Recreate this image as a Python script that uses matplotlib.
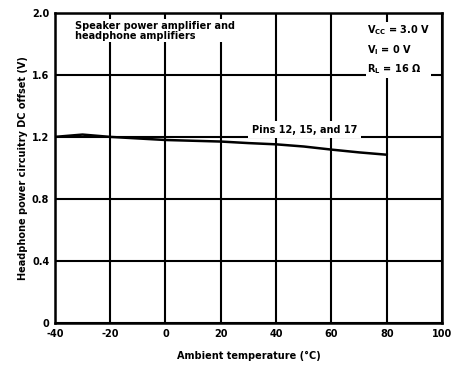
import matplotlib
matplotlib.use('Agg')
import matplotlib.pyplot as plt

# DC offset vs ambient temperature (pins 12, 15, 17)
temps = [-40, -30, -20, -10, 0, 10, 20, 30, 40, 50, 60, 70, 80]
offset = [1.20, 1.215, 1.20, 1.19, 1.18, 1.175, 1.17, 1.16, 1.152, 1.138, 1.118, 1.10, 1.085]

xticks = [-40, -20, 0, 20, 40, 60, 80, 100]
xtick_labels = ["-40", "-20", "0", "20", "40", "60", "80", "100"]
yticks = [0, 0.4, 0.8, 1.2, 1.6, 2.0]
ytick_labels = ["0", "0.4", "0.8", "1.2", "1.6", "2.0"]

plt.rcParams['font.family'] = ['DejaVu Sans']
plt.rcParams['font.weight'] = 'bold'
plt.rcParams['axes.labelweight'] = 'bold'
plt.rcParams['mathtext.default'] = 'regular'

fig = plt.figure(figsize=(4.61, 3.67), dpi=100)
ax = fig.add_axes([0.119, 0.12, 0.84, 0.845])

ax.plot(temps, offset, color="black", linewidth=1.8, zorder=3)

ax.set_xlim(-40, 100)
ax.set_ylim(0, 2.0)
ax.set_xticks(xticks)
ax.set_xticklabels(xtick_labels)
ax.set_yticks(yticks)
ax.set_yticklabels(ytick_labels)
ax.tick_params(length=0, labelsize=7, pad=4)

ax.grid(True, color="black", linewidth=1.5)
for s in ax.spines.values():
    s.set_linewidth(1.8)

ax.set_xlabel("Ambient temperature (\u00b0C)", fontsize=7, labelpad=9)
ax.set_ylabel("Headphone power circuitry DC offset (V)", fontsize=7, labelpad=3)

ax.text(-32.8, 1.95, "Speaker power amplifier and\nheadphone amplifiers",
        fontsize=7, va="top", ha="left", linespacing=1.0,
        bbox=dict(facecolor="white", edgecolor="none", pad=1), zorder=4)

ax.text(72.8, 1.935, "V$_{CC}$ = 3.0 V\nV$_{I}$ = 0 V\nR$_{L}$ = 16 \u03a9",
        fontsize=7, va="top", ha="left", linespacing=1.6,
        bbox=dict(facecolor="white", edgecolor="none", pad=1), zorder=4)

ax.text(50.2, 1.245, "Pins 12, 15, and 17", fontsize=7,
        va="center", ha="center",
        bbox=dict(facecolor="white", edgecolor="none", pad=2.5), zorder=4)

fig.savefig("out.png", dpi=100)
